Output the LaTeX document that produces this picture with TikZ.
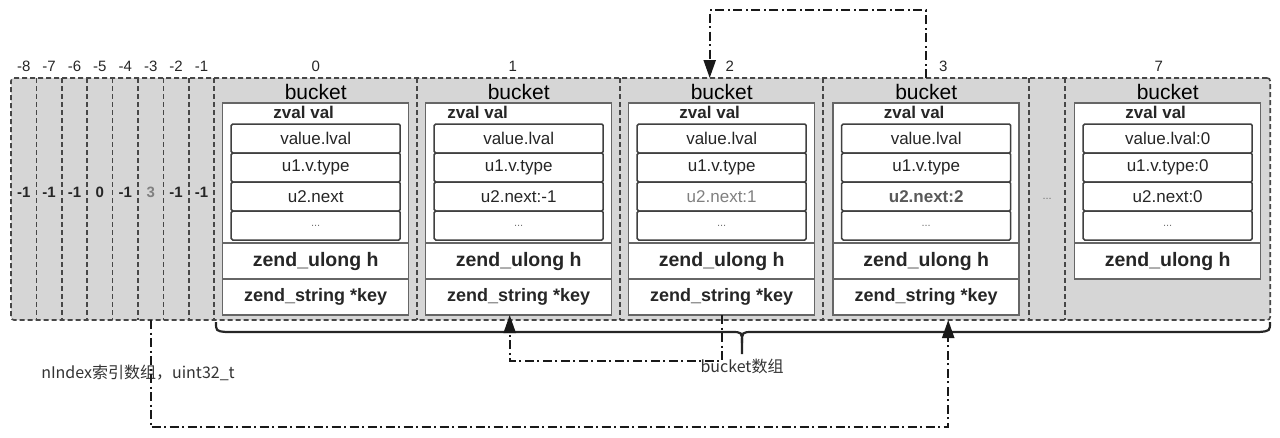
\documentclass[tikz,border=0pt]{standalone}
\usepackage{fontspec}
\setmainfont{Liberation Sans}
\newfontfamily\cjk{Noto Sans CJK SC}
\usetikzlibrary{positioning,fit,backgrounds,arrows.meta}

\begin{document}
\begin{tikzpicture}[x=1pt,y=-1pt]
    \useasboundingbox (0,0) rectangle (1280,437);
    \tikzset{
        cell/.style = {minimum height=242pt, inner sep=0pt, outer sep=0pt},
        divider/.style = {draw=black!72, dash pattern=on 5pt off 3pt, line width=1.6pt},
        idxcell/.style = {cell, minimum width=25.4pt, text depth=14pt,
            text=black!85, font=\fontsize{15}{15}\bfseries},
        num/.style = {inner sep=0pt, text=black!85, font=\fontsize{15}{15}\selectfont},
        title/.style = {inner sep=0pt, font=\fontsize{21}{21}\selectfont},
        zbox/.style = {draw=black!60, line width=1.5pt, fill=white,
            minimum width=186pt, inner sep=0pt, outer sep=0pt},
        zval/.style = {zbox, minimum height=140pt},
        row/.style = {zbox, minimum height=36pt, text=black!85,
            font=\fontsize{19.5}{19.5}\bfseries},
        keyrow/.style = {row, font=\fontsize{18}{18}\bfseries},
        zhead/.style = {inner sep=0pt, text=black!85, font=\fontsize{17}{17}\bfseries},
        field/.style = {draw=black!75, line width=1.5pt, rounded corners=1.5pt,
            minimum width=169pt, minimum height=29pt, inner sep=0pt, outer sep=0pt,
            text=black!85, font=\fontsize{17}{17}\selectfont},
        dots/.style = {text=black!55, font=\fontsize{11}{11}\selectfont},
        link/.style = {draw=black!90, line width=2.2pt,
            dash pattern=on 9pt off 3.5pt on 2pt off 3.5pt,
            -{Triangle[length=18pt,width=12pt]}},
        brace/.style = {draw=black!85, line width=2.2pt},
        captxt/.style = {inner sep=0pt, text=black!80, font=\cjk\fontsize{16}{16}\selectfont}
    }
    % nIndex
    \node[idxcell] (idx8) at (23.7,199) {-1};
    \node[idxcell, right=0pt of idx8] (idx7) {-1};
    \node[idxcell, right=0pt of idx7] (idx6) {-1};
    \node[idxcell, right=0pt of idx6] (idx5) {0};
    \node[idxcell, right=0pt of idx5] (idx4) {-1};
    \node[idxcell, right=0pt of idx4, text=black!50] (idx3) {3};
    \node[idxcell, right=0pt of idx3] (idx2) {-1};
    \node[idxcell, right=0pt of idx2] (idx1) {-1};
    \node[num, above=6pt of idx8] {-8};
    \node[num, above=6pt of idx7] {-7};
    \node[num, above=6pt of idx6] {-6};
    \node[num, above=6pt of idx5] {-5};
    \node[num, above=6pt of idx4] {-4};
    \node[num, above=6pt of idx3] {-3};
    \node[num, above=6pt of idx2] {-2};
    \node[num, above=6pt of idx1] {-1};
    % buckets
    \node[cell, minimum width=203pt, right=0pt of idx1] (b0) {};
    \node[cell, minimum width=203pt, right=0pt of b0] (b1) {};
    \node[cell, minimum width=203pt, right=0pt of b1] (b2) {};
    \node[cell, minimum width=206pt, right=0pt of b2] (b3) {};
    \node[cell, minimum width=36pt, right=0pt of b3, dots] (bd) {...};
    \node[cell, minimum width=205pt, right=0pt of bd] (b7) {};
    \begin{scope}[on background layer]
        \node[fit=(idx8)(b7), inner sep=0pt, fill=black!16, divider,
            rounded corners=3pt] (arr) {};
    \end{scope}
    \draw[divider] (idx8.north east) -- (idx8.south east) (idx7.north east) -- (idx7.south east)
        (idx6.north east) -- (idx6.south east) (idx5.north east) -- (idx5.south east)
        (idx4.north east) -- (idx4.south east) (idx3.north east) -- (idx3.south east)
        (idx2.north east) -- (idx2.south east) (idx1.north east) -- (idx1.south east)
        (b0.north east) -- (b0.south east) (b1.north east) -- (b1.south east)
        (b2.north east) -- (b2.south east) (b3.north east) -- (b3.south east)
        (bd.north east) -- (bd.south east);
    \node[num, above=6pt of b0] {0};
    \node[num, above=6pt of b1, xshift=-6pt] {1};
    \node[num, above=6pt of b2, xshift=8pt] {2};
    \node[num, above=6pt of b3, xshift=17pt] {3};
    \node[num, above=6pt of b7, xshift=-9pt] {7};

    \node[title, below=6pt of b0.north] {bucket};
    \node[zval, below=25pt of b0.north] (b0z) {};
    \node[zhead, below=3pt of b0z.north, xshift=-12pt] {zval val};
    \node[field, below=21pt of b0z.north] (b0v) {value.lval};
    \node[field, below=0pt of b0v] (b0t) {u1.v.type};
    \node[field, below=0pt of b0t] (b0n) {u2.next};
    \node[field, below=0pt of b0n, dots] (b0e) {...};
    \node[row, below=0pt of b0z] (b0h) {zend\_ulong h};
    \node[keyrow, below=0pt of b0h] (b0k) {zend\_string *key};

    \node[title, below=6pt of b1.north] {bucket};
    \node[zval, below=25pt of b1.north] (b1z) {};
    \node[zhead, below=3pt of b1z.north, xshift=-41pt] {zval val};
    \node[field, below=21pt of b1z.north] (b1v) {value.lval};
    \node[field, below=0pt of b1v] (b1t) {u1.v.type};
    \node[field, below=0pt of b1t] (b1n) {u2.next:-1};
    \node[field, below=0pt of b1n, dots] (b1e) {...};
    \node[row, below=0pt of b1z] (b1h) {zend\_ulong h};
    \node[keyrow, below=0pt of b1h] (b1k) {zend\_string *key};

    \node[title, below=6pt of b2.north] {bucket};
    \node[zval, below=25pt of b2.north] (b2z) {};
    \node[zhead, below=3pt of b2z.north, xshift=-12pt] {zval val};
    \node[field, below=21pt of b2z.north] (b2v) {value.lval};
    \node[field, below=0pt of b2v] (b2t) {u1.v.type};
    \node[field, below=0pt of b2t, text=black!50] (b2n) {u2.next:1};
    \node[field, below=0pt of b2n, dots] (b2e) {...};
    \node[row, below=0pt of b2z] (b2h) {zend\_ulong h};
    \node[keyrow, below=0pt of b2h] (b2k) {zend\_string *key};

    \node[title, below=6pt of b3.north] {bucket};
    \node[zval, below=25pt of b3.north] (b3z) {};
    \node[zhead, below=3pt of b3z.north, xshift=-12pt] {zval val};
    \node[field, below=21pt of b3z.north] (b3v) {value.lval};
    \node[field, below=0pt of b3v] (b3t) {u1.v.type};
    \node[field, below=0pt of b3t, text=black!65, font=\fontsize{17}{17}\bfseries] (b3n) {u2.next:2};
    \node[field, below=0pt of b3n, dots] (b3e) {...};
    \node[row, below=0pt of b3z] (b3h) {zend\_ulong h};
    \node[keyrow, below=0pt of b3h] (b3k) {zend\_string *key};

    \node[title, below=6pt of b7.north] {bucket};
    \node[zval, below=25pt of b7.north] (b7z) {};
    \node[zhead, below=3pt of b7z.north, xshift=-12pt] {zval val};
    \node[field, below=21pt of b7z.north] (b7v) {value.lval:0};
    \node[field, below=0pt of b7v] (b7t) {u1.v.type:0};
    \node[field, below=0pt of b7t] (b7n) {u2.next:0};
    \node[field, below=0pt of b7n, dots] (b7e) {...};
    \node[row, below=0pt of b7z] (b7h) {zend\_ulong h};

    \draw[brace] (216,322) .. controls (216,331) .. (226,332) -- (731,332)
        .. controls (742,332) .. (742,343) -- (742,354) coordinate (tip);
    \draw[brace] (742,343) .. controls (742,332) .. (753,332) -- (1259,332)
        .. controls (1270,331) .. (1270,322);
    \node[captxt, below=5pt of tip] {bucket数组};
    \node[captxt] (nidx) at (138,373) {nIndex索引数组，uint32\_t};

    \draw[link] (b3.north) -- ++(0,-68) -| ([xshift=-12pt]b2.north);
    \draw[link] (b2k.south) -- ++(0,46) -| ([xshift=-9pt]b1k.south);
    \draw[link] (idx3.south) -- ++(0,107) -| ([xshift=22pt]b3.south);
\end{tikzpicture}
\end{document}
